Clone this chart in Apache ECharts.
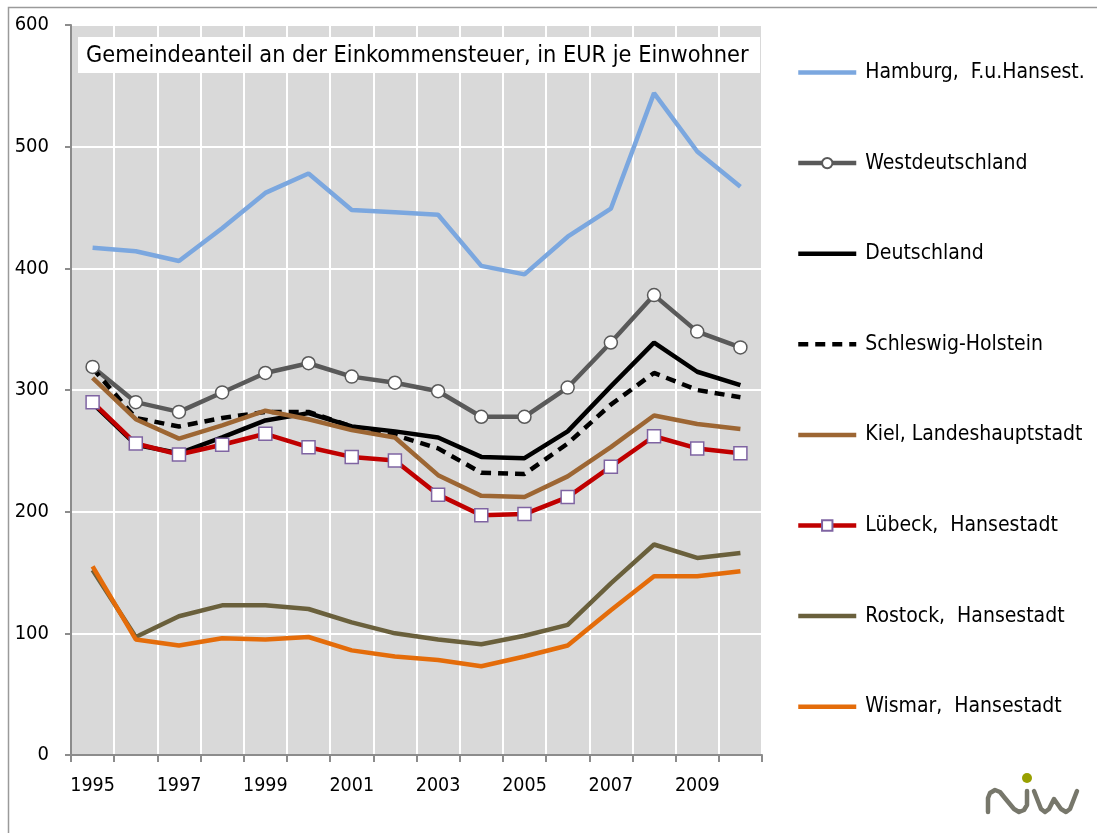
<!DOCTYPE html>
<html lang="de">
<head>
<meta charset="UTF-8">
<title>Gemeindeanteil an der Einkommensteuer</title>
<script src="https://cdn.jsdelivr.net/npm/echarts@6/dist/echarts.min.js"></script>
<style>
    html, body { margin: 0; padding: 0; background: #fff; }
    #chart { width: 1097px; height: 833px; }
</style>
</head>
<body>
<div id="chart"></div>
<script>
var FONT = '"DejaVu Sans Condensed", "DejaVu Sans", sans-serif';

var years = ['1995','1996','1997','1998','1999','2000','2001','2002','2003','2004','2005','2006','2007','2008','2009','2010'];

var hamburg         = [417, 414, 406, 433, 462, 478, 448, 446, 444, 402, 395, 426, 449, 544, 496, 467];
var westdeutschland = [319, 290, 282, 298, 314, 322, 311, 306, 299, 278, 278, 302, 339, 378, 348, 335];
var deutschland     = [289, 255, 248, 261, 275, 281, 270, 266, 261, 245, 244, 266, 303, 339, 315, 304];
var schleswigHolst  = [318, 277, 270, 277, 282, 282, 270, 263, 252, 232, 231, 256, 288, 314, 300, 294];
var kiel            = [310, 276, 260, 271, 283, 276, 267, 261, 230, 213, 212, 229, 253, 279, 272, 268];
var luebeck         = [290, 256, 247, 255, 264, 253, 245, 242, 214, 197, 198, 212, 237, 262, 252, 248];
var rostock         = [152, 97, 114, 123, 123, 120, 109, 100, 95, 91, 98, 107, 141, 173, 162, 166];
var wismar          = [155, 95, 90, 96, 95, 97, 86, 81, 78, 73, 81, 90, 119, 147, 147, 151];

var names = ['Hamburg,  F.u.Hansest.', 'Westdeutschland', 'Deutschland', 'Schleswig-Holstein',
             'Kiel, Landeshauptstadt', 'Lübeck,  Hansestadt', 'Rostock,  Hansestadt', 'Wismar,  Hansestadt'];
// which legend entries show a marker
var withMarker = { 'Westdeutschland': true, 'Lübeck,  Hansestadt': true };

function lineSeries(name, data, color, extra) {
    var s = {
        name: name,
        type: 'line',
        data: data,
        symbol: 'none',
        lineStyle: { color: color, width: 4.5 },
        itemStyle: { color: color },
        emphasis: { disabled: true },
        animation: false
    };
    for (var k in extra) s[k] = extra[k];
    return s;
}

var mychart = echarts.init(document.getElementById('chart'));
var option = {
    backgroundColor: '#fff',
    textStyle: { fontFamily: FONT },
    grid: {
        left: 71, right: 335, top: 25, bottom: 78,
        show: true, backgroundColor: '#d9d9d9', borderWidth: 0
    },
    legend: {
        orient: 'vertical',
        left: 796,
        top: 62,
        padding: 0,
        itemWidth: 58,
        itemHeight: 13,
        itemGap: 69.6,
        lineStyle: { width: 4.5 },
        textStyle: { fontFamily: FONT, fontSize: 21, color: '#000', lineHeight: 20, padding: [0, 0, 0, 4] },
        data: names.map(function (n) {
            return withMarker[n] ? { name: n } : { name: n, itemStyle: { opacity: 0 } };
        })
    },
    xAxis: {
        type: 'category',
        data: years,
        boundaryGap: true,
        axisLine: { lineStyle: { color: '#8c8c8c', width: 2 } },
        axisTick: { show: true, interval: 0, length: 7, lineStyle: { color: '#8c8c8c', width: 2 } },
        axisLabel: { interval: 1, margin: 21, fontSize: 19.5, color: '#000', fontFamily: FONT },
        splitLine: { show: true, interval: 0, lineStyle: { color: '#fff', width: 2 } }
    },
    yAxis: {
        type: 'value',
        min: 0, max: 600, interval: 100,
        axisLine: { show: true, lineStyle: { color: '#8c8c8c', width: 2 } },
        axisTick: { show: true, length: 6, lineStyle: { color: '#8c8c8c', width: 2 } },
        axisLabel: { margin: 22, fontSize: 20, color: '#000', fontFamily: FONT },
        splitLine: { show: true, lineStyle: { color: '#fff', width: 2 } }
    },
    series: [
        lineSeries(names[0], hamburg, '#7ba7df'),
        lineSeries(names[1], westdeutschland, '#595959', {
            symbol: 'circle', symbolSize: 13, showSymbol: true,
            itemStyle: { color: '#fff', borderColor: '#595959', borderWidth: 1.5 }
        }),
        lineSeries(names[2], deutschland, '#000'),
        lineSeries(names[3], schleswigHolst, '#000', {
            lineStyle: { color: '#000', width: 4.5, type: [10, 7] }
        }),
        lineSeries(names[4], kiel, '#9d6633'),
        lineSeries(names[5], luebeck, '#c00000', {
            symbol: 'rect', symbolSize: 13, showSymbol: true,
            itemStyle: { color: '#fff', borderColor: '#7f64a2', borderWidth: 1.5 }
        }),
        lineSeries(names[6], rostock, '#6a603c'),
        lineSeries(names[7], wismar, '#e46c0a')
    ],
    graphic: [
        {
            type: 'rect', silent: true, z: -10,
            shape: { x: 8.5, y: 7.5, width: 1200, height: 1000 },
            style: { fill: 'none', stroke: '#9a9a9a', lineWidth: 1.5 }
        },
        {
            type: 'rect', silent: true, z: 10,
            shape: { x: 78, y: 37, width: 682, height: 36 },
            style: { fill: '#fff' }
        },
        {
            type: 'text', silent: true, z: 11,
            x: 86, y: 56,
            style: {
                text: 'Gemeindeanteil an der Einkommensteuer, in EUR je Einwohner',
                fontFamily: FONT, fontSize: 23.3, fill: '#000', verticalAlign: 'middle'
            }
        },
        // niw logo
        {
            type: 'polyline', silent: true,
            shape: {
                points: [[988, 812], [988, 798], [990, 793], [995, 790], [1000, 792],
                         [1004, 797], [1014, 809], [1019, 812], [1024, 810], [1027, 805], [1027, 791]]
            },
            style: { stroke: '#77776b', lineWidth: 4.5, fill: 'none', lineJoin: 'round', lineCap: 'round' }
        },
        {
            type: 'polyline', silent: true,
            shape: {
                points: [[1034, 791], [1041, 809], [1045, 812], [1049, 809], [1054, 799],
                         [1061, 809], [1066, 812], [1070, 809], [1077, 791]]
            },
            style: { stroke: '#77776b', lineWidth: 4.5, fill: 'none', lineJoin: 'round', lineCap: 'round' }
        },
        {
            type: 'circle', silent: true,
            shape: { cx: 1027, cy: 778, r: 5 },
            style: { fill: '#98a000' }
        }
    ]
};
mychart.setOption(option);
</script>
</body>
</html>
